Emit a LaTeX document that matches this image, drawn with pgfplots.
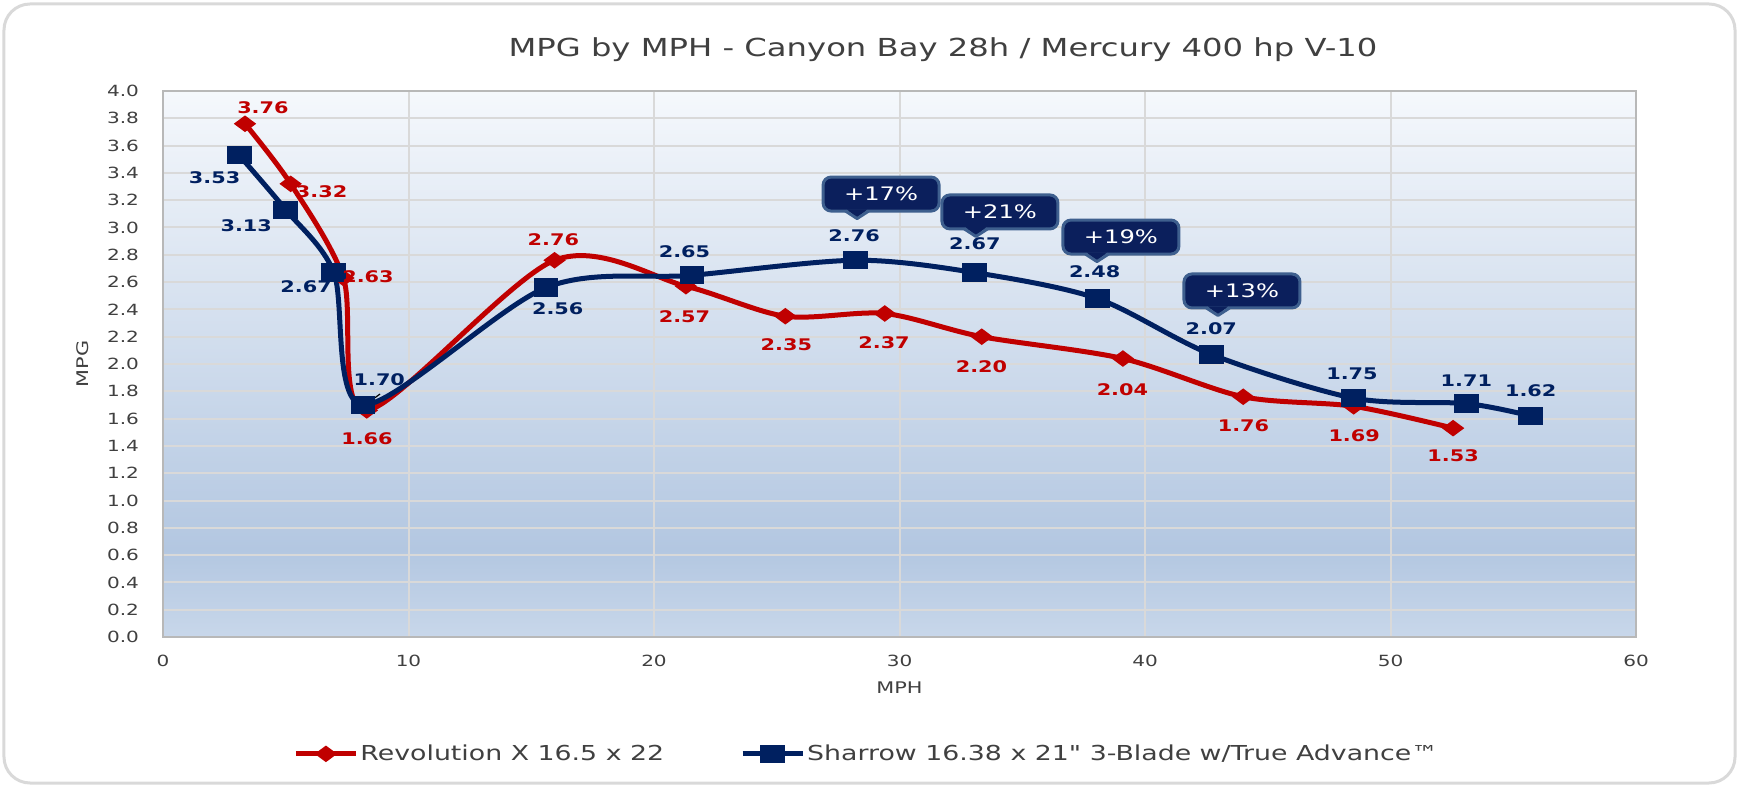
\documentclass[border=0pt]{standalone}
\usepackage{fontspec}
\setmainfont{DejaVu Sans}[FakeStretch=1.3]
\newfontfamily\plainfont{DejaVu Sans}[FakeStretch=1.3]
\usepackage{pgfplots}
\usepackage{pgfplotstable}
\pgfplotsset{compat=1.18}

\definecolor{revred}{HTML}{C00000}
\definecolor{sharblue}{HTML}{002060}
\definecolor{gridc}{HTML}{D9D9D9}
\definecolor{txt}{HTML}{404040}
\definecolor{bgtop}{HTML}{F5F8FC}
\definecolor{bgdark}{HTML}{B3C7E1}
\definecolor{bgbot}{HTML}{C8D7EA}
\definecolor{callfill}{HTML}{0B1F5C}
\definecolor{callline}{HTML}{3E5F8E}
\definecolor{framec}{HTML}{D9D9D9}

\pgfdeclareverticalshading{plotbg}{100bp}{color(0bp)=(bgbot); color(25bp)=(bgbot); color(33bp)=(bgdark); color(75bp)=(bgtop); color(100bp)=(bgtop)}

\tikzset{callbox/.style={rectangle, rounded corners=4pt, fill=callfill, draw=callline, line width=1.5pt,
  minimum width=58pt, minimum height=17pt, inner sep=1pt, text=white, font=\fontsize{9.3}{10}\selectfont}}
\newcommand{\callout}[3]{%
  \node[callbox] (cb) at (axis cs:#1,#2) {#3};
  \fill[callfill] ([xshift=-17pt,yshift=1.6pt]cb.south) -- ([xshift=-12pt,yshift=-3pt]cb.south) -- ([xshift=-7pt,yshift=1.6pt]cb.south) -- cycle;
  \draw[callline, line width=1.5pt, line join=round] ([xshift=-17.8pt,yshift=0.75pt]cb.south) -- ([xshift=-12pt,yshift=-3pt]cb.south) -- ([xshift=-6.2pt,yshift=0.75pt]cb.south);
  \fill[callfill] ([xshift=-16pt,yshift=0.9pt]cb.south) -- ([xshift=-12pt,yshift=-1.8pt]cb.south) -- ([xshift=-8pt,yshift=0.9pt]cb.south) -- cycle;
}

\pgfplotstableread{
x y
3.34 3.76
5.2 3.32
7.35 2.63
8.3 1.66
15.95 2.76
21.3 2.57
25.35 2.35
29.4 2.37
33.35 2.20
39.1 2.04
44.0 1.76
48.5 1.69
52.55 1.53
}\reddata

\pgfplotstableread{
x y
3.1 3.53
5.0 3.13
6.96 2.67
8.15 1.70
15.6 2.56
21.55 2.65
28.2 2.76
33.05 2.67
38.05 2.48
42.7 2.07
48.5 1.75
53.1 1.71
55.7 1.62
}\bluedata

\pgfplotstableread{
x y lab
4.07 3.878 3.76
6.46 3.26 3.32
8.35 2.64 2.63
8.31 1.455 1.66
15.9 2.91 2.76
21.24 2.35 2.57
25.39 2.138 2.35
29.37 2.154 2.37
33.34 1.984 2.20
39.08 1.813 2.04
44.01 1.545 1.76
48.52 1.472 1.69
52.55 1.325 1.53
}\redlabels

\pgfplotstableread{
x y lab
2.1 3.366 3.53
3.39 3.016 3.13
5.83 2.569 2.67
8.81 1.886 1.70
16.08 2.407 2.56
21.24 2.821 2.65
28.15 2.943 2.76
33.07 2.878 2.67
37.95 2.675 2.48
42.7 2.26 2.07
48.43 1.927 1.75
53.09 1.878 1.71
55.71 1.805 1.62
}\bluelabels

\begin{document}
\begin{tikzpicture}
\useasboundingbox (-81.5pt,-75pt) rectangle (788pt,318.5pt);
\draw[framec, line width=1.5pt, rounded corners=13pt] (-79.5pt,-73pt) rectangle (786pt,316.5pt);
\begin{axis}[
  at={(0pt,0pt)}, anchor=south west,
  scale only axis, width=736.5pt, height=273pt,
  xmin=0, xmax=60, ymin=0, ymax=4,
  xtick={0,10,20,30,40,50,60},
  ytick={0,0.2,0.4,0.6,0.8,1.0,1.2,1.4,1.6,1.8,2.0,2.2,2.4,2.6,2.8,3.0,3.2,3.4,3.6,3.8,4.0},
  /pgf/number format/assume math mode=true,
  yticklabel style={xshift=-8.5pt, /pgf/number format/fixed, /pgf/number format/fixed zerofill, /pgf/number format/precision=1},
  xticklabel style={yshift=-5.5pt},
  tick label style={font=\fontsize{7.7}{9}\selectfont, color=txt},
  major tick length=0pt,
  grid=major,
  major grid style={gridc, line width=1pt},
  axis line style={draw=gridc!85!black, line width=1pt},
  axis background/.style={shading=plotbg},
  title={MPG by MPH - Canyon  Bay 28h / Mercury 400 hp V-10},
  title style={at={(axis description cs:0.5295,1.0751)}, anchor=center, yshift=-6pt, font=\fontsize{12.4}{14}\selectfont, color=txt},
  xlabel={MPH}, ylabel={MPG},
  xlabel style={at={(axis description cs:0.5,-0.0934)}, anchor=center, font=\fontsize{8}{9}\selectfont, color=txt},
  ylabel style={at={(axis description cs:-0.0543,0.5)}, anchor=center, font=\fontsize{8}{9}\selectfont, color=txt},
  legend columns=2,
  legend style={at={(0.0842,-0.214)}, anchor=west, draw=none, fill=none,
    font=\fontsize{10.3}{12}\selectfont, text=txt,
    /tikz/every even column/.append style={column sep=37pt},
    nodes={inner sep=1pt}},
  legend image code/.code={\draw[mark repeat=2, mark phase=2, #1] plot coordinates {(0pt,0pt) (15pt,0pt) (30pt,0pt)};},
]
\addplot[revred, line width=2.5pt, smooth, tension=0.5, mark=diamond*, mark size=2.6pt, mark options={xscale=1.8, solid}] table[x=x,y=y] {\reddata};
\addlegendentry{Revolution X 16.5 x 22}
\addplot[sharblue, line width=2.5pt, smooth, tension=0.5, mark=square*, mark size=3.3pt, mark options={xscale=1.5, solid}] table[x=x,y=y] {\bluedata};
\addlegendentry{Sharrow 16.38 x 21{\plainfont"} 3-Blade w/True Advance™}

\addplot[draw=none, mark=none, forget plot, nodes near coords, point meta=explicit symbolic,
  nodes near coords style={anchor=center, font=\bfseries\fontsize{8}{9}\selectfont, text=revred, inner sep=0pt}]
  table[x=x,y=y,meta=lab] {\redlabels};
\addplot[draw=none, mark=none, forget plot, nodes near coords, point meta=explicit symbolic,
  nodes near coords style={anchor=center, font=\bfseries\fontsize{8}{9}\selectfont, text=sharblue, inner sep=0pt}]
  table[x=x,y=y,meta=lab] {\bluelabels};

\draw[black, line width=0.6pt] (axis cs:8.15,1.69) -- (axis cs:8.84,1.78);

\callout{29.25}{3.245}{+17\%}
\callout{34.09}{3.114}{+21\%}
\callout{39.02}{2.930}{+19\%}
\callout{43.95}{2.535}{+13\%}
\end{axis}
\end{tikzpicture}
\end{document}
